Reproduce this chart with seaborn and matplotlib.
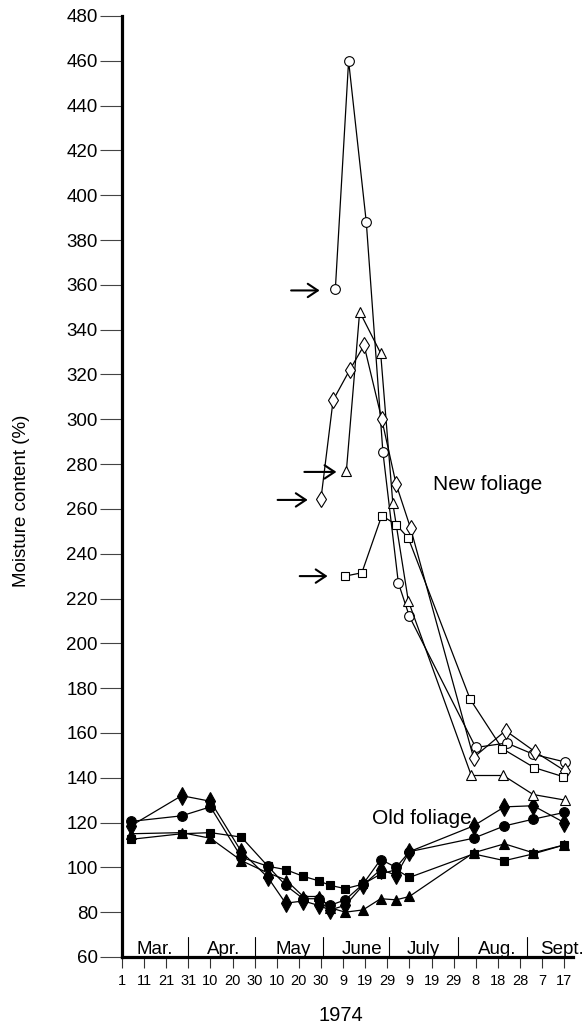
import matplotlib
matplotlib.use("Agg")
import matplotlib.pyplot as plt
import seaborn as sns
import pandas as pd

# ---------------- data (days after 1 March 1974) ----------------
tick_days = list(range(0, 201, 10))
tick_labels = ["1", "11", "21", "31", "10", "20", "30", "10", "20", "30",
               "9", "19", "29", "9", "19", "29", "8", "18", "28", "7", "17"]
month_names = ["Mar.", "Apr.", "May", "June", "July", "Aug.", "Sept."]
month_centers = [14.6, 45.9, 77.6, 108.6, 136.5, 169.5, 199.0]
month_bounds = [30, 60, 91, 121, 152, 183]

old_days = [4, 27, 40, 54, 66, 74, 82, 89, 94, 101, 109, 117, 124, 130, 159, 173, 186, 200]
old_diamond = [118.5, 132, 129.5, 107, 95.5, 84, 85, 83, 81, 83, 92, 99, 96.5, 107, 118.5, 127, 127.5, 120]
old_circle = [120.5, 123, 127, 104.5, 100.5, 92, 86, 86, 83, 85.5, 92.5, 103.5, 100, 107, 113, 118.5, 121.5, 124.5]
old_square = [112.5, 115, 115.5, 113.5, 100.5, 99, 96, 94, 92, 90.5, 92.5, 97, 99, 95.5, 106, 103, 106, 110]
old_triangle = [115, 115.5, 113, 103, 97.5, 94.5, 87, 87, 82, 80, 81, 86, 85.5, 87, 106.5, 110.5, 106.5, 110]

new_circle_days = [96.5, 102.5, 110.5, 118, 125, 130, 160, 174, 186, 200.5]
new_circle = [358, 460, 388, 285.5, 227, 212, 153.5, 155.5, 150.5, 147]
new_triangle_days = [101.5, 107.5, 117, 122.5, 129.5, 158, 172.5, 186, 200.5]
new_triangle = [277, 348, 329.5, 262.5, 219, 141, 141, 132.5, 130]
new_diamond_days = [90, 95.5, 103, 109.5, 117.5, 124, 130.5, 159, 173.5, 187, 200.5]
new_diamond = [264.5, 308.5, 322, 333, 300, 271, 251.5, 149, 161, 151.5, 143]
new_square_days = [101, 108.5, 117.5, 124, 129.5, 157.5, 172, 186.5, 199.5]
new_square = [230, 231.5, 257, 253, 247, 175, 153, 144.5, 140.5]

# arrows marking first sampling of new foliage: (tail_day, head_day, value)
arrows = [(76.5, 89.4, 357.5), (82.5, 97.0, 276.5), (70.4, 84.0, 264.0), (80.4, 93.0, 230.0)]

# ---------------- styling ----------------
sns.set_theme(style="ticks")
plt.rcParams["font.family"] = ["Liberation Sans", "DejaVu Sans"]
for k in ["text.color", "axes.labelcolor", "xtick.labelcolor", "ytick.labelcolor"]:
    plt.rcParams[k] = "black"

fig = plt.figure(figsize=(5.85, 10.32), dpi=100)
ax = fig.add_axes([0.2085, 0.0727, 0.771, 0.9118])

series = [
    (old_days, old_diamond, "d", 9, "black"),
    (old_days, old_circle, "o", 7, "black"),
    (old_days, old_square, "s", 6, "black"),
    (old_days, old_triangle, "^", 7, "black"),
    (new_circle_days, new_circle, "o", 7, "white"),
    (new_triangle_days, new_triangle, "^", 7, "white"),
    (new_diamond_days, new_diamond, "d", 8.5, "white"),
    (new_square_days, new_square, "s", 6, "white"),
]
for xs, ys, mk, ms, fc in series:
    df = pd.DataFrame({"day": xs, "val": ys})
    sns.lineplot(data=df, x="day", y="val", ax=ax, color="black", lw=0.9,
                 marker=mk, markersize=ms, markerfacecolor=fc,
                 markeredgecolor="black", markeredgewidth=0.8,
                 estimator=None, sort=False, legend=False)

for t, h, v in arrows:
    ax.annotate("", xy=(h, v), xytext=(t, v),
                arrowprops=dict(arrowstyle="->, head_length=0.45, head_width=0.3",
                                lw=1.5, color="black",
                                mutation_scale=16, shrinkA=0, shrinkB=0))

ax.set_xlim(0, 204)
ax.set_ylim(60, 480)
ax.set_yticks(range(60, 481, 20))
ax.set_xticks(tick_days)
ax.set_xticklabels(tick_labels)

for b in month_bounds:
    ax.plot([b, b], [60, 69], color="black", lw=0.8)
for name, c in zip(month_names, month_centers):
    ax.text(c, 61.3, name, ha="center", va="baseline", fontsize=13.5, clip_on=False)

ax.text(140.5, 268.5, "New foliage", fontsize=15, ha="left", va="baseline")
ax.text(112.9, 119.4, "Old foliage", fontsize=15, ha="left", va="baseline")

for side in ["top", "right"]:
    ax.spines[side].set_visible(False)
ax.spines["left"].set_linewidth(2.3)
ax.spines["bottom"].set_linewidth(2.3)
ax.spines["left"].set_color("black")
ax.spines["bottom"].set_color("black")

ax.tick_params(axis="y", direction="out", length=16, width=0.8, pad=1.5,
               labelsize=13.5, color="#444444")
ax.tick_params(axis="x", direction="out", length=8, width=0.8, pad=4,
               labelsize=10.5, color="#333333")

ax.set_ylabel("Moisture content (%)", fontsize=13.5)
ax.yaxis.set_label_coords(-0.205, 0.4846)
ax.set_xlabel("1974", fontsize=14.5)
ax.xaxis.set_label_coords(0.4845, -0.052)
ax.xaxis.label.set_va("top")

fig.savefig("out.png", dpi=100)
